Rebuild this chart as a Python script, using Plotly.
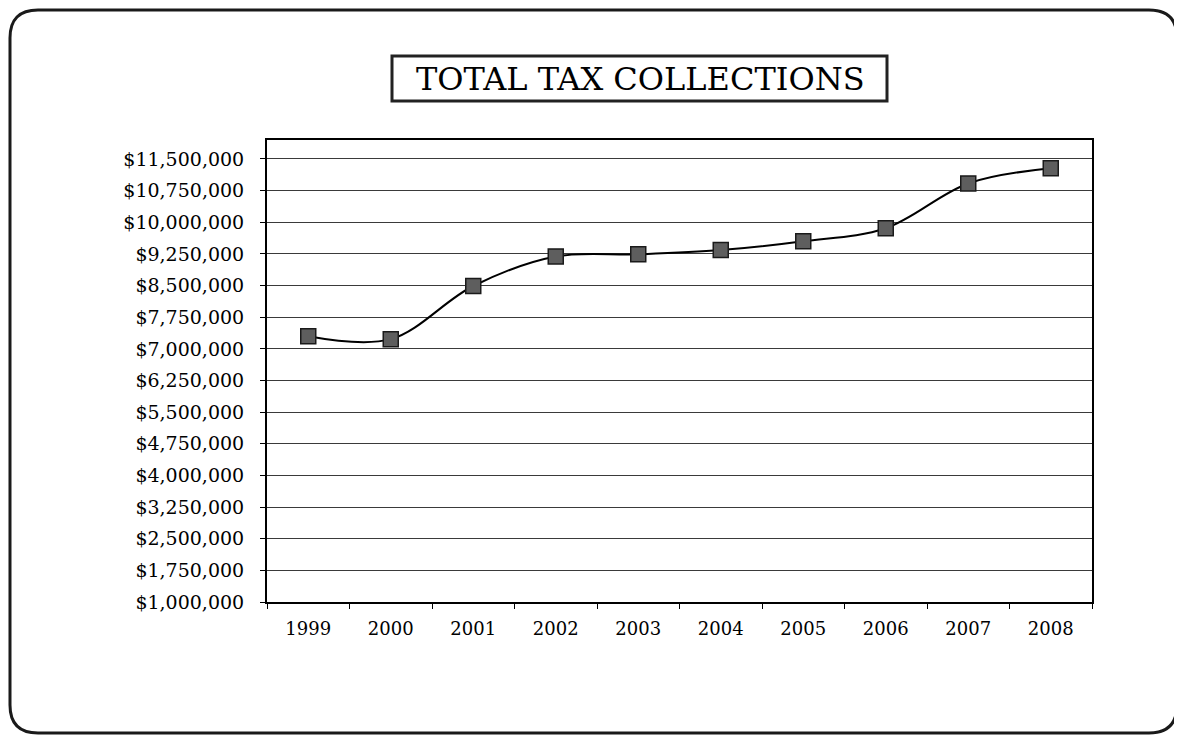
import plotly.graph_objects as go

years = ["1999", "2000", "2001", "2002", "2003", "2004", "2005", "2006", "2007", "2008"]
collections = [7300000, 7230000, 8490000, 9190000, 9240000, 9340000, 9550000, 9860000, 10920000, 11280000]
title_text = "TOTAL TAX COLLECTIONS"

OFF = 8  # page body margin
W, H = 1182 - OFF, 736 - OFF
L, R, T, B = 267 - OFF, 1092 - OFF, 140 - OFF, 602 - OFF
pw, ph = R - L, B - T

def px(x):
    return (x - OFF - L) / pw

def py(y):
    return (B - (y - OFF)) / ph

fig = go.Figure()
fig.add_trace(go.Scatter(
    x=years, y=collections, mode="lines+markers",
    line=dict(color="black", width=2, shape="spline", smoothing=1.0),
    marker=dict(symbol="square", size=15, color="#5e5e5e",
                line=dict(color="#1a1a1a", width=1.5)),
    showlegend=False,
))

font_serif = "DejaVu Serif, Liberation Serif, serif"

fig.update_layout(
    width=W, height=H,
    margin=dict(l=L, r=W - R, t=T, b=H - B, autoexpand=False),
    paper_bgcolor="white", plot_bgcolor="white",
    font=dict(family=font_serif, color="black", size=18),
    xaxis=dict(
        type="category", showgrid=False, showline=True, linecolor="black", linewidth=2,
        mirror=True, ticks="outside", tickson="boundaries", ticklen=5, tickcolor="black",
        tickfont=dict(size=18, family=font_serif), ticklabelstandoff=9,
        range=[-0.5, 9.5],
    ),
    yaxis=dict(
        range=[1000000, 11950000], tick0=1000000, dtick=750000, tickformat="$,.0f",
        showgrid=True, gridcolor="#3a3a3a", gridwidth=1,
        showline=True, linecolor="black", linewidth=2, mirror=True,
        ticks="outside", ticklen=5, tickcolor="black", zeroline=False,
        tickfont=dict(size=19, family=font_serif), ticklabelstandoff=12,
    ),
)

# title text and box
fig.add_annotation(
    x=px(640), y=py(79), xref="paper", yref="paper", xanchor="center", yanchor="middle",
    text=title_text, showarrow=False,
    font=dict(family=font_serif, size=32, color="black"),
)
fig.add_shape(type="rect", xref="paper", yref="paper",
              x0=px(392), x1=px(887), y0=py(56), y1=py(101),
              line=dict(color="#222222", width=3), fillcolor="rgba(0,0,0,0)")

# rounded outer frame
x0, y0, x1, y1, r = 10, 10, 1177, 733, 28
def P(x, y):
    return f"{px(x):.5f},{py(y):.5f}"
path = (f"M {P(x0 + r, y0)} L {P(x1 - r, y0)} Q {P(x1, y0)} {P(x1, y0 + r)} "
        f"L {P(x1, y1 - r)} Q {P(x1, y1)} {P(x1 - r, y1)} "
        f"L {P(x0 + r, y1)} Q {P(x0, y1)} {P(x0, y1 - r)} "
        f"L {P(x0, y0 + r)} Q {P(x0, y0)} {P(x0 + r, y0)} Z")
fig.add_shape(type="path", path=path, xref="paper", yref="paper",
              line=dict(color="#1a1a1a", width=3), layer="below")

fig.write_html("out.html")
